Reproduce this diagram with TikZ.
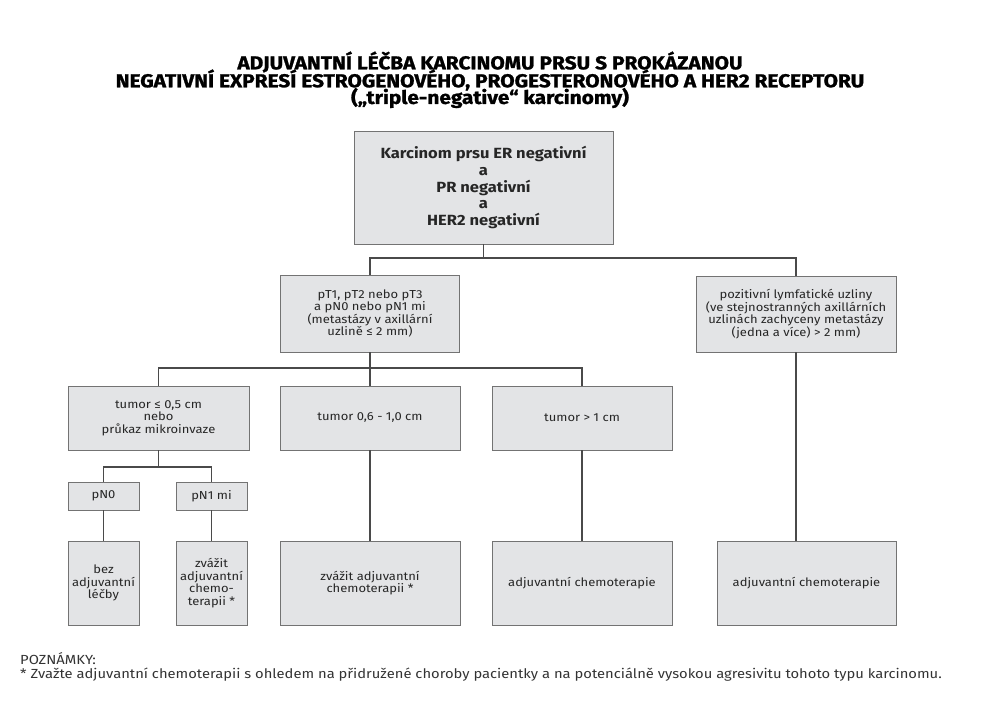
\documentclass[tikz,border=0pt]{standalone}
\usepackage{fontspec}
\setmainfont{Fira Sans}
\newfontfamily\widefont{Fira Sans}[FakeStretch=1.12]
\newfontfamily\heavyfont{Fira Sans}[FakeStretch=1.12, BoldFeatures={FakeBold=1.3}]
\usetikzlibrary{shadows}
\definecolor{boxgray}{HTML}{E3E4E6}
\definecolor{linegray}{HTML}{4A4A4A}

\begin{document}
\begin{tikzpicture}[x=0.02cm,y=-0.02cm,
  box/.style={draw=black!55, fill=boxgray, line width=0.5pt, align=center, inner sep=1pt,
    text=black!85, font=\widefont\fontsize{6.6}{7.2}\selectfont,
    drop shadow={shadow xshift=0.5pt, shadow yshift=-0.7pt, fill=black!40, opacity=0.6}},
  link/.style={draw=linegray, line width=0.9pt},
  title/.style={font=\heavyfont\fontsize{10.6}{12}\selectfont\bfseries},
  note/.style={anchor=west, font=\widefont\fontsize{7.5}{9}\selectfont, text=black!80}]
\useasboundingbox (0,0) rectangle (981,723);
\node[title] (t1) at (490,62) {ADJUVANTNÍ LÉČBA KARCINOMU PRSU S PROKÁZANOU};
\node[title] (t2) at (490,80) {NEGATIVNÍ EXPRESÍ ESTROGENOVÉHO, PROGESTERONOVÉHO A HER2 RECEPTORU};
\node[title] (t3) at (490,98) {(„triple-negative“ karcinomy)};
\node[box, minimum width=5.18cm, minimum height=2.26cm, font=\widefont\fontsize{8.4}{9.6}\selectfont\bfseries] (top) at (483.5,187.5) {Karcinom prsu ER negativní\\a\\PR negativní\\a\\HER2 negativní};
\node[box, minimum width=3.58cm, minimum height=1.54cm] (pT) at (370,313.5) {pT1, pT2 nebo pT3\\a pN0 nebo pN1 mi\\(metastázy v axillární\\uzlině ≤ 2 mm)};
\node[box, minimum width=4.0cm, minimum height=1.52cm] (pos) at (796,314) {pozitivní lymfatické uzliny\\(ve stejnostranných axillárních\\uzlinách zachyceny metastázy\\(jedna a více) > 2 mm)};
\node[box, minimum width=3.62cm, minimum height=1.28cm] (tum1) at (158.5,418) {tumor ≤ 0,5 cm\\nebo\\průkaz mikroinvaze};
\node[box, minimum width=3.6cm, minimum height=1.28cm] (tum2) at (370,418) {tumor 0,6 - 1,0 cm};
\node[box, minimum width=3.6cm, minimum height=1.28cm] (tum3) at (582,418) {tumor > 1 cm};
\node[box, minimum width=1.42cm, minimum height=0.56cm] (pN0) at (103.5,496) {pN0};
\node[box, minimum width=1.42cm, minimum height=0.56cm] (pN1) at (211.5,496) {pN1 mi};
\node[box, minimum width=1.42cm, minimum height=1.68cm] (bez) at (103.5,583) {bez\\adjuvantní\\léčby};
\node[box, minimum width=1.42cm, minimum height=1.68cm] (zvaz1) at (211.5,583) {zvážit\\adjuvantní\\chemo-\\terapii *};
\node[box, minimum width=3.6cm, minimum height=1.68cm] (zvaz2) at (370,583) {zvážit adjuvantní\\chemoterapii *};
\node[box, minimum width=3.6cm, minimum height=1.68cm] (chemo1) at (582,583) {adjuvantní chemoterapie};
\node[box, minimum width=3.58cm, minimum height=1.68cm] (chemo2) at (806.5,583) {adjuvantní chemoterapie};
\coordinate (j1) at (483.5,258);
\coordinate (j2) at (370,368);
\coordinate (j3) at (158.5,467);
\draw[link] (top) -- (j1);
\draw[link] (pT.north) |- (j1) -| (pos.north);
\draw[link] (pT) -- (tum2);
\draw[link] (tum1.north) |- (j2) -| (tum3.north);
\draw[link] (tum1) -- (j3);
\draw[link] (pN0.north) |- (j3) -| (pN1.north);
\draw[link] (pN0) -- (bez);
\draw[link] (pN1) -- (zvaz1);
\draw[link] (tum2) -- (zvaz2);
\draw[link] (tum3) -- (chemo1);
\draw[link] (pos.south) -- (pos.south |- chemo2.north);
\node[note] (remark) at (14,659) {POZNÁMKY:};
\node[note] (star) at (14,675) {* Zvažte adjuvantní chemoterapii s ohledem na přidružené choroby pacientky a na potenciálně vysokou agresivitu tohoto typu karcinomu.};
\end{tikzpicture}
\end{document}
